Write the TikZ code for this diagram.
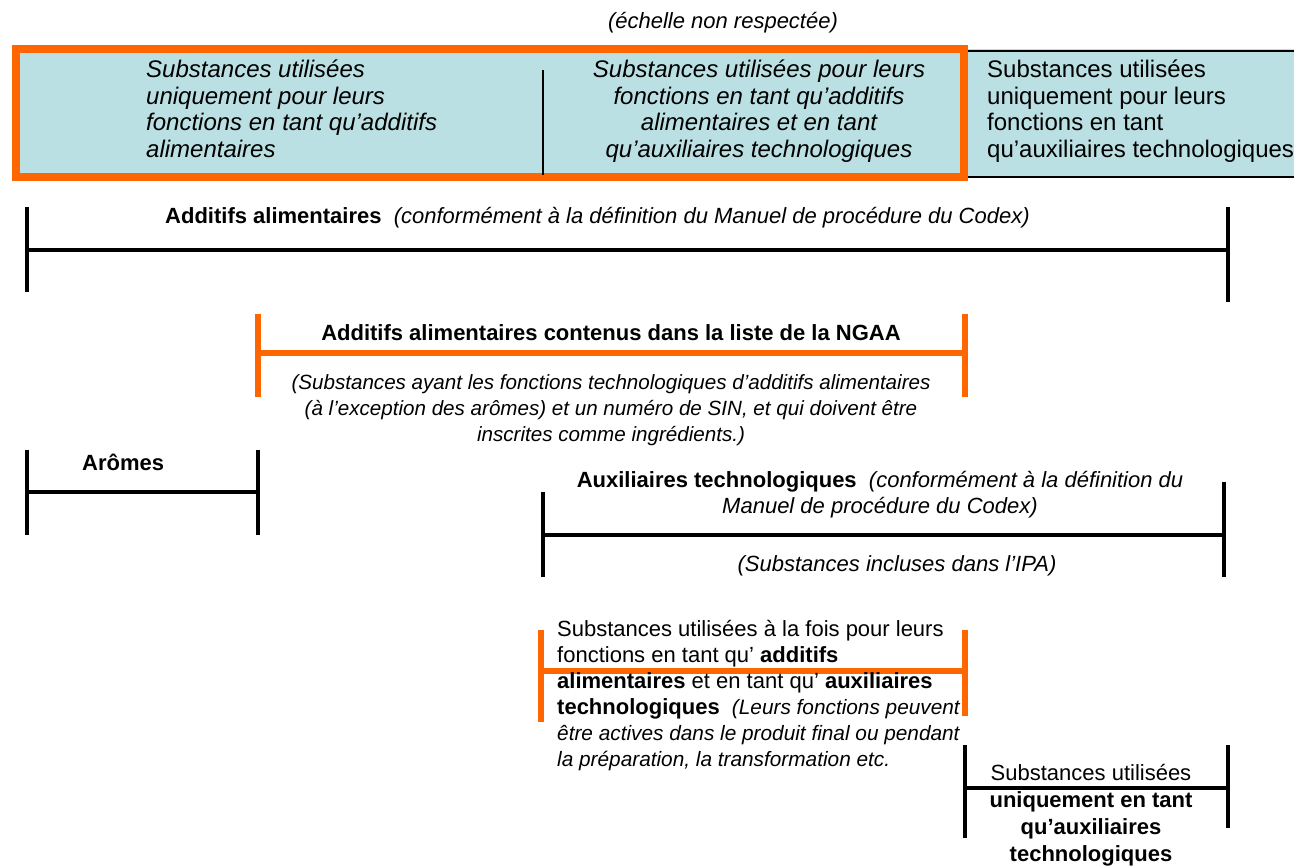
\documentclass[tikz,border=0pt]{standalone}
\usepackage{fontspec}
\setmainfont{Liberation Sans}
\definecolor{orng}{RGB}{255,102,0}
\definecolor{lblue}{RGB}{187,224,227}
\tikzset{
  blk/.style={line width=3.5pt, black},
  org/.style={line width=5.5pt, orng},
  txt/.style={inner sep=0pt, font=\fontsize{22}{26.5}\selectfont},
  boxtxt/.style={inner sep=0pt, font=\fontsize{24}{26.5}\selectfont},
}
\begin{document}
\begin{tikzpicture}[x=1pt,y=-1pt]
\useasboundingbox (0,0) rectangle (1294,866);
% top boxes
\fill[lblue] (16,49) rectangle (1300,177);
\draw[line width=1.5pt] (966,51) -- (1300,51) (966,177) -- (1300,177);
\draw[orng, line width=8pt] (16,49) rectangle (964,177);
\draw[line width=1.2pt] (543,70) -- (543,175);
\node[txt, font=\itshape\fontsize{22}{26.5}\selectfont, anchor=north] at (723,12) {(échelle non respectée)};
\node[boxtxt, font=\itshape\fontsize{24}{26.5}\selectfont, align=left, anchor=north west] (b1) at (146,60)
  {Substances utilisées\\uniquement pour leurs\\fonctions en tant qu’additifs\\alimentaires};
\node[boxtxt, font=\itshape\fontsize{24}{26.5}\selectfont, align=center, anchor=north] (b2) at (759,60)
  {Substances utilisées pour leurs\\fonctions en tant qu’additifs\\alimentaires et en tant\\qu’auxiliaires technologiques};
\node[boxtxt, align=left, anchor=north west] (b3) at (987,60)
  {Substances utilisées\\uniquement pour leurs\\fonctions en tant\\qu’auxiliaires technologiques};
% Additifs alimentaires bracket
\coordinate (aaL) at (27,250); \coordinate (aaR) at (1228,250);
\draw[blk] (27,207) -- (27,292);
\draw[blk] (1228,207) -- (1228,302);
\draw[blk] (aaL) -- (aaR);
\node[txt, anchor=west] (aat) at (165,218) {\textbf{Additifs alimentaires}\ \ \textit{(conformément à la définition du Manuel de procédure du Codex)}};
% NGAA bracket
\coordinate (ngL) at (258,353); \coordinate (ngR) at (965,353);
\draw[org] (258,314) -- (258,397);
\draw[org] (965,314) -- (965,397);
\draw[org] (ngL) -- (ngR);
\node[txt, font=\bfseries\fontsize{22}{26.5}\selectfont] (ngt) at (611,333) {Additifs alimentaires contenus dans la liste de la NGAA};
\node[txt, font=\itshape\fontsize{20.6}{26}\selectfont, align=center, anchor=north] (ngs) at (611,374)
  {(Substances ayant les fonctions technologiques d’additifs alimentaires\\(à l’exception des arômes) et un numéro de SIN, et qui doivent être\\inscrites comme ingrédients.)};
% Aromes
\coordinate (arL) at (27,492); \coordinate (arR) at (258,492);
\draw[blk] (27,450) -- (27,535);
\draw[blk] (258,450) -- (258,535);
\draw[blk] (arL) -- (arR);
\node[txt, font=\bfseries\fontsize{22}{26}\selectfont, anchor=west] (art) at (82,462) {Arômes};
% Auxiliaires technologiques
\coordinate (axL) at (543,535); \coordinate (axR) at (1224,535);
\draw[blk] (543,492) -- (543,577);
\draw[blk] (1224,482) -- (1224,577);
\draw[blk] (axL) -- (axR);
\node[txt, align=center, anchor=north] (axt) at (880,471)
  {\textbf{Auxiliaires technologiques}\ \ \textit{(conformément à la définition du}\\\textit{Manuel de procédure du Codex)}};
\node[txt, font=\itshape\fontsize{22}{26}\selectfont] (axs) at (897,566) {(Substances incluses dans l’IPA)};
% orange bottom bracket
\coordinate (obL) at (541,671); \coordinate (obR) at (965,671);
\draw[org] (541,630) -- (541,722);
\draw[org] (965,630) -- (965,716);
\draw[org] (obL) -- (obR);
\node[txt, font=\fontsize{22}{26}\selectfont, align=left, anchor=north west] (obt) at (557,620)
  {Substances utilisées à la fois pour leurs\\fonctions en tant qu’ \textbf{additifs}\\\textbf{alimentaires} et en tant qu’ \textbf{auxiliaires}\\\textbf{technologiques} \ {\itshape\fontsize{20.8}{26}\selectfont(Leurs fonctions peuvent}\\{\itshape\fontsize{20.8}{26}\selectfont être actives dans le produit final ou pendant}\\{\itshape\fontsize{20.8}{26}\selectfont la préparation, la transformation etc.}};
% black bottom bracket
\coordinate (bbL) at (965,788); \coordinate (bbR) at (1228,788);
\draw[blk] (965,745) -- (965,838);
\draw[blk] (1228,745) -- (1228,828);
\draw[blk] (bbL) -- (bbR);
\node[txt, font=\fontsize{22}{27}\selectfont, align=center, anchor=north] (bbt) at (1091,764)
  {Substances utilisées\\\textbf{uniquement en tant}\\\textbf{qu’auxiliaires}\\\textbf{technologiques}};
\end{tikzpicture}
\end{document}
